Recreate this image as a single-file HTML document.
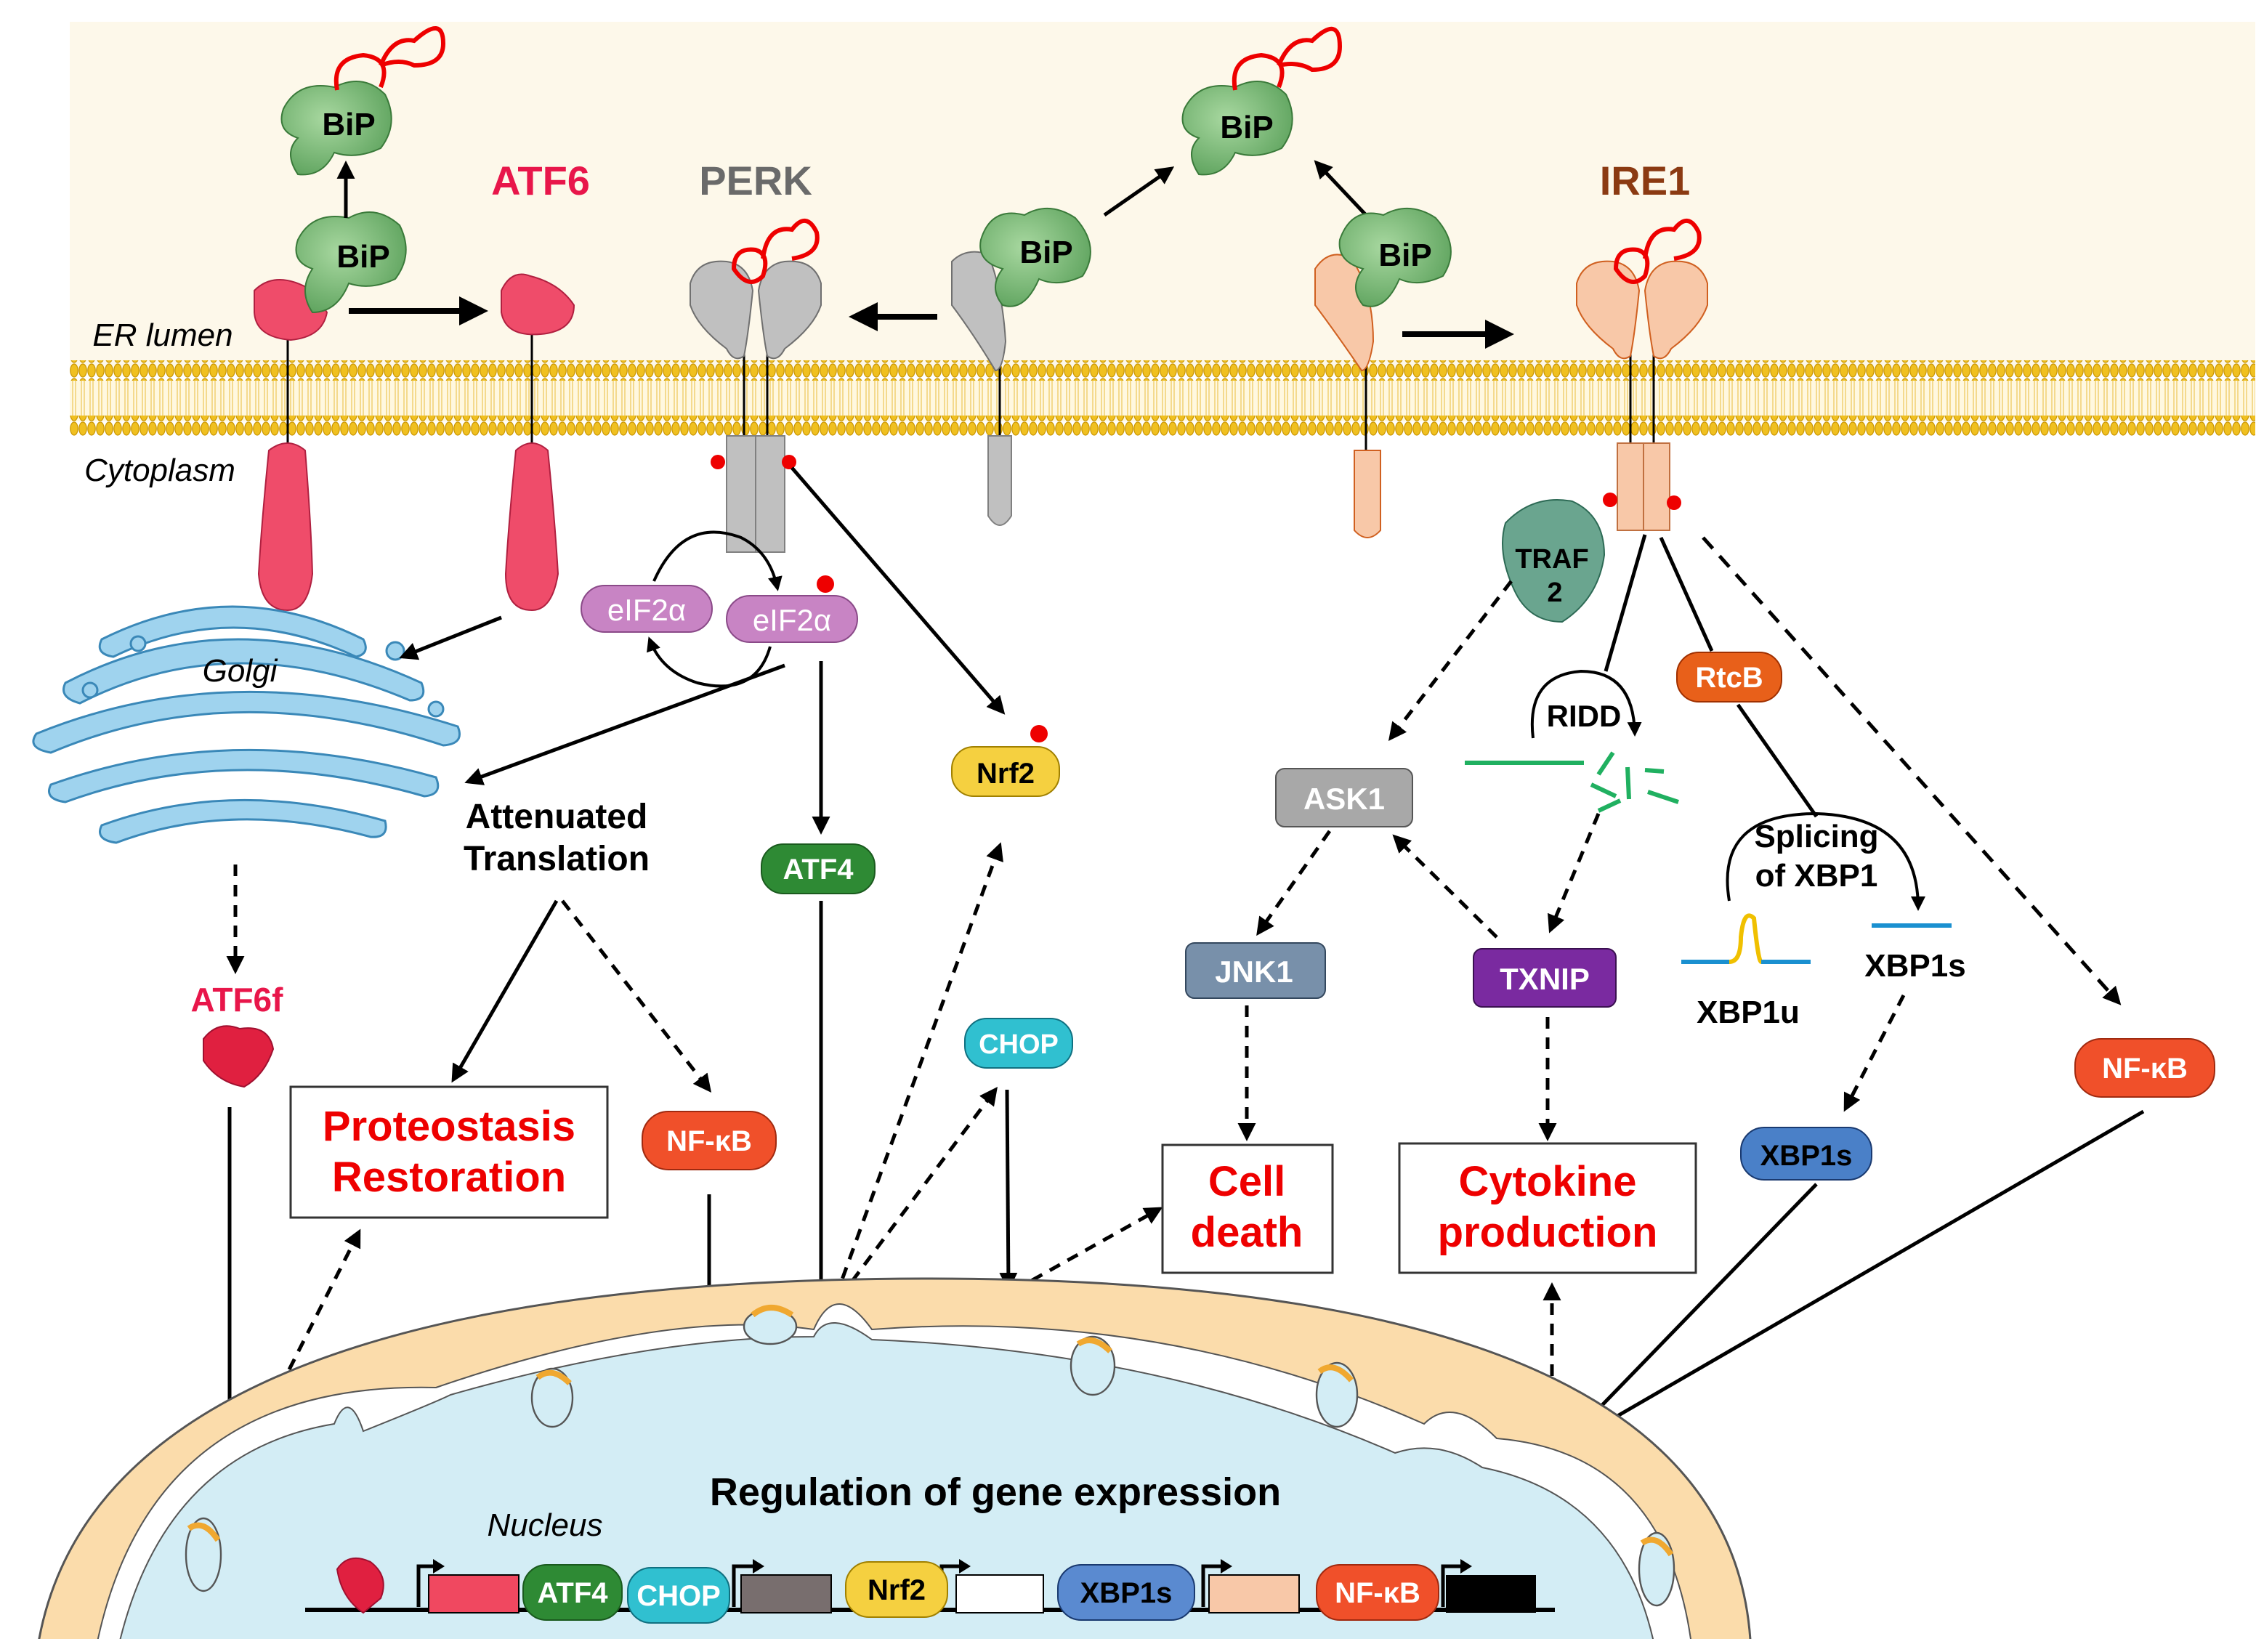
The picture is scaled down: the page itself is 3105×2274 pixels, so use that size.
<!DOCTYPE html>
<html><head><meta charset="utf-8"><style>
html,body{margin:0;padding:0;background:#fff;}
svg{display:block;}
text{font-family:"Liberation Sans",sans-serif;}
</style></head><body>
<svg width="3105" height="2274" viewBox="0 0 1552.5 1137" xmlns="http://www.w3.org/2000/svg">
<defs>
<marker id="a" viewBox="0 0 10 10" refX="8" refY="5" markerWidth="5" markerHeight="5" orient="auto-start-reverse"><path d="M0,0 L10,5 L0,10 z" fill="#000"/></marker>
<pattern id="bead" width="6" height="10" patternUnits="userSpaceOnUse"><ellipse cx="3" cy="5" rx="2.6" ry="4.5" fill="#f0c020" stroke="#c89400" stroke-width="0.6"/></pattern>
<pattern id="tail" width="6" height="10" patternUnits="userSpaceOnUse"><rect width="6" height="10" fill="#fff8e0"/><line x1="2" y1="0" x2="2" y2="10" stroke="#f2d27a" stroke-width="0.8"/><line x1="4" y1="0" x2="4" y2="10" stroke="#f2d27a" stroke-width="0.8"/></pattern>
<radialGradient id="gb" cx="0.4" cy="0.4" r="0.7"><stop offset="0" stop-color="#a8d8a0"/><stop offset="1" stop-color="#5aa05a"/></radialGradient>
</defs>
<rect width="1552.5" height="1137" fill="#fff"/>
<rect x="48" y="15" width="1504" height="240" fill="#fdf8ea"/>
<rect x="48" y="262" width="1504" height="28" fill="url(#tail)"/>
<rect x="48" y="248" width="1504" height="14" fill="url(#bead)"/>
<rect x="48" y="286" width="1504" height="14" fill="url(#bead)"/>

<text x="372" y="134" font-size="28" font-weight="bold" fill="#e8164a" text-anchor="middle">ATF6</text>
<text x="520" y="134" font-size="28" font-weight="bold" fill="#6a6a6a" text-anchor="middle">PERK</text>
<text x="1132" y="134" font-size="28" font-weight="bold" fill="#8b3a12" text-anchor="middle">IRE1</text>
<text x="112" y="238" font-size="22" font-style="italic" text-anchor="middle">ER lumen</text>
<text x="110" y="331" font-size="22" font-style="italic" text-anchor="middle">Cytoplasm</text>

<line x1="198" y1="225" x2="198" y2="310" stroke="#000" stroke-width="1.5"/>
<path d="M175,200 Q190,185 215,200 L225,215 Q222,232 200,234 Q176,232 175,215 z" fill="#ef4c6a" stroke="#b02040"/>
<path d="M185,310 Q198,300 210,310 Q214,360 215,395 Q212,420 198,420 Q180,420 178,395 Q180,360 185,310z" fill="#ef4c6a" stroke="#b02040"/>
<line x1="366" y1="225" x2="366" y2="310" stroke="#000" stroke-width="1.5"/>
<path d="M345,200 Q352,185 365,190 Q385,195 395,210 Q395,228 372,230 Q348,232 345,215z" fill="#ef4c6a" stroke="#b02040"/>
<path d="M355,310 Q366,300 377,310 Q382,360 384,395 Q380,420 366,420 Q348,420 348,395 Q350,360 355,310z" fill="#ef4c6a" stroke="#b02040"/>

<path d="M205,165 Q215,145 240,150 Q258,140 275,155 Q285,175 272,192 Q255,200 240,195 Q232,215 215,215 Q205,200 215,185 Q200,180 205,165z" fill="url(#gb)" stroke="#3a7a3a"/>
<text x="250" y="184" font-size="22" font-weight="bold" text-anchor="middle">BiP</text>
<path d="M195,75 Q205,55 230,60 Q250,50 265,65 Q275,85 262,102 Q245,110 230,105 Q222,122 205,120 Q195,105 205,95 Q190,90 195,75z" fill="url(#gb)" stroke="#3a7a3a"/>
<text x="240" y="93" font-size="22" font-weight="bold" text-anchor="middle">BiP</text>
<path d="M232,62 Q228,40 250,38 Q270,40 262,60 M262,45 Q270,25 285,28 Q305,10 305,30 Q305,45 285,45 Q275,40 262,45" fill="none" stroke="#e00" stroke-width="3"/>
<path d="M815,75 Q825,55 850,60 Q870,50 885,65 Q895,85 882,102 Q865,110 850,105 Q842,122 825,120 Q815,105 825,95 Q810,90 815,75z" fill="url(#gb)" stroke="#3a7a3a"/>
<text x="858" y="95" font-size="22" font-weight="bold" text-anchor="middle">BiP</text>
<path d="M850,62 Q846,40 868,38 Q888,40 880,60 M880,45 Q888,25 903,28 Q922,10 922,32 Q922,48 903,48 Q893,42 880,45" fill="none" stroke="#e00" stroke-width="3"/>
<line x1="238" y1="150" x2="238" y2="113" stroke="#000" stroke-width="2.5" marker-end="url(#a)"/>
<line x1="240" y1="214" x2="332" y2="214" stroke="#000" stroke-width="4" marker-end="url(#a)"/>

<line x1="512" y1="240" x2="512" y2="320" stroke="#000" stroke-width="1.5"/>
<line x1="528" y1="240" x2="528" y2="320" stroke="#000" stroke-width="1.5"/>
<path d="M475,195 Q480,178 500,180 Q515,182 518,200 Q515,230 512,245 Q505,250 500,240 Q480,225 475,210z" fill="#c0c0c0" stroke="#707070"/>
<path d="M565,195 Q560,178 540,180 Q525,182 522,200 Q525,230 528,245 Q535,250 540,240 Q560,225 565,210z" fill="#c0c0c0" stroke="#707070"/>
<path d="M500,300 h20 v80 h-20z M520,300 h20 v80 h-20z" fill="#c0c0c0" stroke="#808080"/>
<circle cx="494" cy="318" r="5" fill="#e00"/><circle cx="543" cy="318" r="5" fill="#e00"/>
<path d="M505,185 Q505,170 520,172 Q530,175 525,190 Q515,200 505,185z M525,178 Q528,155 545,158 Q555,145 562,160 Q565,175 545,178" fill="none" stroke="#e00" stroke-width="3"/>
<line x1="645" y1="218" x2="588" y2="218" stroke="#000" stroke-width="4" marker-end="url(#a)"/>
<line x1="688" y1="250" x2="688" y2="300" stroke="#000" stroke-width="1.5"/>
<path d="M655,180 Q665,170 680,175 Q690,200 692,235 Q690,255 685,255 Q670,230 655,210z" fill="#c0c0c0" stroke="#707070"/>
<path d="M680,300 h16 v55 Q688,368 680,355z" fill="#c0c0c0" stroke="#808080"/>
<path d="M675,165 Q682,142 705,148 Q722,138 740,150 Q758,170 745,190 Q728,198 715,192 Q705,215 690,210 Q680,198 690,185 Q672,180 675,165z" fill="url(#gb)" stroke="#3a7a3a"/>
<text x="720" y="181" font-size="22" font-weight="bold" text-anchor="middle">BiP</text>
<line x1="760" y1="148" x2="806" y2="116" stroke="#000" stroke-width="2.5" marker-end="url(#a)"/>
<line x1="940" y1="148" x2="906" y2="112" stroke="#000" stroke-width="2.5" marker-end="url(#a)"/>
<line x1="940" y1="250" x2="940" y2="310" stroke="#000" stroke-width="1.5"/>
<path d="M905,185 Q915,170 930,178 Q945,200 945,235 Q942,255 937,255 Q920,230 905,210z" fill="#f8c8a8" stroke="#d06020"/>
<path d="M932,310 h18 v55 Q941,375 932,365z" fill="#f8c8a8" stroke="#d06020"/>
<path d="M922,165 Q930,142 952,148 Q970,138 988,150 Q1006,170 993,190 Q976,198 963,192 Q953,215 938,210 Q928,198 938,185 Q920,180 922,165z" fill="url(#gb)" stroke="#3a7a3a"/>
<text x="967" y="183" font-size="22" font-weight="bold" text-anchor="middle">BiP</text>
<line x1="965" y1="230" x2="1038" y2="230" stroke="#000" stroke-width="4" marker-end="url(#a)"/>

<line x1="1122" y1="240" x2="1122" y2="320" stroke="#000" stroke-width="1.5"/>
<line x1="1138" y1="240" x2="1138" y2="320" stroke="#000" stroke-width="1.5"/>
<path d="M1085,195 Q1090,178 1110,180 Q1125,182 1128,200 Q1125,230 1122,245 Q1115,250 1110,240 Q1090,225 1085,210z" fill="#f8c8a8" stroke="#d06020"/>
<path d="M1175,195 Q1170,178 1150,180 Q1135,182 1132,200 Q1135,230 1138,245 Q1145,250 1150,240 Q1170,225 1175,210z" fill="#f8c8a8" stroke="#d06020"/>
<path d="M1113,305 h18 v60 h-18z M1131,305 h18 v60 h-18z" fill="#f8c8a8" stroke="#c07040"/>
<circle cx="1108" cy="344" r="5" fill="#e00"/><circle cx="1152" cy="346" r="5" fill="#e00"/>
<path d="M1112,185 Q1112,170 1127,172 Q1137,175 1132,190 Q1122,200 1112,185z M1132,178 Q1135,155 1152,158 Q1162,145 1169,160 Q1172,175 1152,178" fill="none" stroke="#e00" stroke-width="3"/>
<path d="M1036,360 Q1055,340 1082,345 Q1104,355 1104,382 Q1100,412 1075,428 Q1052,428 1042,406 Q1030,380 1036,360z" fill="#6aa58f" stroke="#2d6a55"/>
<text x="1068" y="391" font-size="19" font-weight="bold" text-anchor="middle">TRAF</text>
<text x="1070" y="414" font-size="19" font-weight="bold" text-anchor="middle">2</text>

<g fill="#9fd3ee" stroke="#3a88b8" stroke-width="1.5">
<path d="M70,440 Q160,395 250,440 Q255,450 245,452 Q160,412 78,452 Q65,450 70,440z"/>
<path d="M45,470 Q160,410 290,470 Q295,482 282,482 Q160,430 55,484 Q40,480 45,470z"/>
<path d="M25,505 Q160,450 315,500 Q320,512 305,513 Q160,465 35,518 Q18,515 25,505z"/>
<path d="M35,540 Q160,495 300,535 Q305,547 292,548 Q160,510 45,552 Q30,550 35,540z"/>
<path d="M70,568 Q160,535 265,565 Q268,577 255,576 Q160,550 80,580 Q65,578 70,568z"/>
<circle cx="95" cy="443" r="5"/><circle cx="272" cy="448" r="6"/><circle cx="300" cy="488" r="5"/><circle cx="62" cy="475" r="5"/>
</g>
<text x="165" y="469" font-size="22" font-style="italic" text-anchor="middle">Golgi</text>
<line x1="345" y1="425" x2="277" y2="452" stroke="#000" stroke-width="2.5" marker-end="url(#a)"/>
<line x1="162" y1="595" x2="162" y2="668" stroke="#000" stroke-width="2.5" stroke-dasharray="8,6" marker-end="url(#a)"/>
<text x="163" y="696" font-size="23" font-weight="bold" fill="#e8164a" text-anchor="middle">ATF6f</text>
<path d="M140,715 Q150,702 165,708 Q185,705 188,722 Q182,740 168,748 Q150,745 140,730z" fill="#e02040" stroke="#a01030"/>
<line x1="158" y1="762" x2="158" y2="988" stroke="#000" stroke-width="2.5" marker-end="url(#a)"/>
<line x1="180" y1="980" x2="247" y2="848" stroke="#000" stroke-width="2.5" stroke-dasharray="8,6" marker-end="url(#a)"/>

<rect x="400" y="403" width="90" height="32" rx="16" fill="#c884c4" stroke="#8a4a88"/>
<text x="445" y="427" font-size="21" fill="#fff" text-anchor="middle">eIF2α</text>
<rect x="500" y="410" width="90" height="32" rx="16" fill="#c884c4" stroke="#8a4a88"/>
<text x="545" y="434" font-size="21" fill="#fff" text-anchor="middle">eIF2α</text>
<circle cx="568" cy="402" r="6" fill="#e00"/>
<path d="M450,400 Q470,355 510,370 Q530,380 535,405" fill="none" stroke="#000" stroke-width="2" marker-end="url(#a)"/>
<path d="M530,445 Q520,480 480,470 Q455,462 447,440" fill="none" stroke="#000" stroke-width="2" marker-end="url(#a)"/>
<line x1="545" y1="322" x2="690" y2="490" stroke="#000" stroke-width="2.5" marker-end="url(#a)"/>
<line x1="540" y1="458" x2="322" y2="538" stroke="#000" stroke-width="2.5" marker-end="url(#a)"/>
<line x1="565" y1="455" x2="565" y2="572" stroke="#000" stroke-width="2.5" marker-end="url(#a)"/>
<text x="383" y="570" font-size="24" font-weight="bold" text-anchor="middle">Attenuated</text>
<text x="383" y="599" font-size="24" font-weight="bold" text-anchor="middle">Translation</text>
<rect x="655" y="514" width="74" height="34" rx="15" fill="#f5d040" stroke="#a08000"/>
<text x="692" y="539" font-size="20" font-weight="bold" text-anchor="middle">Nrf2</text>
<circle cx="715" cy="505" r="6" fill="#e00"/>
<rect x="524" y="581" width="78" height="34" rx="15" fill="#2e8a34" stroke="#1a5a1e"/>
<text x="563" y="605" font-size="20" font-weight="bold" fill="#fff" text-anchor="middle">ATF4</text>
<line x1="383" y1="620" x2="312" y2="743" stroke="#000" stroke-width="2.5" marker-end="url(#a)"/>
<line x1="387" y1="620" x2="488" y2="750" stroke="#000" stroke-width="2.5" stroke-dasharray="8,6" marker-end="url(#a)"/>
<rect x="200" y="748" width="218" height="90" fill="#fff" stroke="#333" stroke-width="1.5"/>
<text x="309" y="785" font-size="29" font-weight="bold" fill="#e00" text-anchor="middle">Proteostasis</text>
<text x="309" y="820" font-size="29" font-weight="bold" fill="#e00" text-anchor="middle">Restoration</text>
<rect x="442" y="765" width="92" height="40" rx="18" fill="#f0502a" stroke="#a02a10"/>
<text x="488" y="792" font-size="20" font-weight="bold" fill="#fff" text-anchor="middle">NF-κB</text>
<line x1="488" y1="822" x2="488" y2="902" stroke="#000" stroke-width="2.5" marker-end="url(#a)"/>
<line x1="565" y1="620" x2="565" y2="893" stroke="#000" stroke-width="2.5" marker-end="url(#a)"/>
<line x1="575" y1="893" x2="688" y2="582" stroke="#000" stroke-width="2.5" stroke-dasharray="8,6" marker-end="url(#a)"/>
<line x1="578" y1="893" x2="685" y2="750" stroke="#000" stroke-width="2.5" stroke-dasharray="8,6" marker-end="url(#a)"/>
<rect x="664" y="701" width="74" height="34" rx="15" fill="#30c0d0" stroke="#107080"/>
<text x="701" y="725" font-size="19" font-weight="bold" fill="#fff" text-anchor="middle">CHOP</text>
<line x1="693" y1="750" x2="694" y2="886" stroke="#000" stroke-width="2.5" marker-end="url(#a)"/>
<line x1="698" y1="888" x2="798" y2="832" stroke="#000" stroke-width="2.5" stroke-dasharray="8,6" marker-end="url(#a)"/>
<rect x="800" y="788" width="117" height="88" fill="#fff" stroke="#333" stroke-width="1.5"/>
<text x="858" y="823" font-size="29" font-weight="bold" fill="#e00" text-anchor="middle">Cell</text>
<text x="858" y="858" font-size="29" font-weight="bold" fill="#e00" text-anchor="middle">death</text>

<line x1="1040" y1="400" x2="957" y2="508" stroke="#000" stroke-width="2.5" stroke-dasharray="8,6" marker-end="url(#a)"/>
<rect x="878" y="529" width="94" height="40" rx="6" fill="#a8a8a8" stroke="#555"/>
<text x="925" y="557" font-size="21" font-weight="bold" fill="#fff" text-anchor="middle">ASK1</text>
<line x1="915" y1="572" x2="866" y2="642" stroke="#000" stroke-width="2.5" stroke-dasharray="8,6" marker-end="url(#a)"/>
<rect x="816" y="649" width="96" height="38" rx="6" fill="#7890aa" stroke="#34485e"/>
<text x="863" y="676" font-size="21" font-weight="bold" fill="#fff" text-anchor="middle">JNK1</text>
<line x1="858" y1="692" x2="858" y2="783" stroke="#000" stroke-width="2.5" stroke-dasharray="8,6" marker-end="url(#a)"/>
<line x1="1030" y1="645" x2="960" y2="576" stroke="#000" stroke-width="2.5" stroke-dasharray="8,6" marker-end="url(#a)"/>
<rect x="1014" y="653" width="98" height="40" rx="6" fill="#7a2aa0" stroke="#3a1050"/>
<text x="1063" y="681" font-size="21" font-weight="bold" fill="#fff" text-anchor="middle">TXNIP</text>
<line x1="1065" y1="700" x2="1065" y2="783" stroke="#000" stroke-width="2.5" stroke-dasharray="8,6" marker-end="url(#a)"/>
<rect x="963" y="787" width="204" height="89" fill="#fff" stroke="#333" stroke-width="1.5"/>
<text x="1065" y="823" font-size="29" font-weight="bold" fill="#e00" text-anchor="middle">Cytokine</text>
<text x="1065" y="858" font-size="29" font-weight="bold" fill="#e00" text-anchor="middle">production</text>
<line x1="1132" y1="368" x2="1105" y2="462" stroke="#000" stroke-width="2.5"/>
<path d="M1055,508 Q1050,465 1088,462 Q1124,462 1125,505" fill="none" stroke="#000" stroke-width="2" marker-end="url(#a)"/>
<text x="1090" y="500" font-size="21" font-weight="bold" text-anchor="middle">RIDD</text>
<line x1="1008" y1="525" x2="1090" y2="525" stroke="#20b060" stroke-width="3"/>
<g stroke="#20b060" stroke-width="3"><line x1="1100" y1="533" x2="1110" y2="518"/><line x1="1120" y1="528" x2="1121" y2="550"/><line x1="1132" y1="530" x2="1145" y2="531"/><line x1="1095" y1="540" x2="1112" y2="548"/><line x1="1100" y1="558" x2="1115" y2="551"/><line x1="1134" y1="545" x2="1155" y2="552"/></g>
<line x1="1100" y1="560" x2="1067" y2="640" stroke="#000" stroke-width="2.5" stroke-dasharray="8,6" marker-end="url(#a)"/>
<line x1="1143" y1="370" x2="1178" y2="448" stroke="#000" stroke-width="2.5"/>
<rect x="1154" y="449" width="72" height="34" rx="15" fill="#e8601a" stroke="#a03000"/>
<text x="1190" y="473" font-size="20" font-weight="bold" fill="#fff" text-anchor="middle">RtcB</text>
<line x1="1196" y1="485" x2="1250" y2="562" stroke="#000" stroke-width="2.5"/>
<path d="M1190,620 Q1180,560 1250,560 Q1320,562 1320,625" fill="none" stroke="#000" stroke-width="2" marker-end="url(#a)"/>
<text x="1250" y="583" font-size="22" font-weight="bold" text-anchor="middle">Splicing</text>
<text x="1250" y="610" font-size="22" font-weight="bold" text-anchor="middle">of XBP1</text>
<line x1="1157" y1="662" x2="1190" y2="662" stroke="#1a90d0" stroke-width="3"/>
<line x1="1212" y1="662" x2="1246" y2="662" stroke="#1a90d0" stroke-width="3"/>
<path d="M1190,662 Q1198,662 1198,645 Q1200,625 1207,632 Q1210,662 1212,662" fill="none" stroke="#f0c000" stroke-width="3"/>
<text x="1203" y="704" font-size="22" font-weight="bold" text-anchor="middle">XBP1u</text>
<line x1="1288" y1="637" x2="1343" y2="637" stroke="#1a90d0" stroke-width="3"/>
<text x="1318" y="672" font-size="22" font-weight="bold" text-anchor="middle">XBP1s</text>
<line x1="1310" y1="685" x2="1270" y2="763" stroke="#000" stroke-width="2.5" stroke-dasharray="8,6" marker-end="url(#a)"/>
<rect x="1198" y="776" width="90" height="36" rx="16" fill="#4a80c8" stroke="#1a3a70"/>
<text x="1243" y="802" font-size="20" font-weight="bold" text-anchor="middle">XBP1s</text>
<line x1="1250" y1="815" x2="1090" y2="980" stroke="#000" stroke-width="2.5" marker-end="url(#a)"/>
<line x1="1172" y1="370" x2="1458" y2="690" stroke="#000" stroke-width="2.5" stroke-dasharray="10,7" marker-end="url(#a)"/>
<rect x="1428" y="715" width="96" height="40" rx="18" fill="#f0502a" stroke="#a02a10"/>
<text x="1476" y="742" font-size="20" font-weight="bold" fill="#fff" text-anchor="middle">NF-κB</text>
<line x1="1475" y1="765" x2="1095" y2="985" stroke="#000" stroke-width="2.5" marker-end="url(#a)"/>
<line x1="1068" y1="975" x2="1068" y2="885" stroke="#000" stroke-width="2.5" stroke-dasharray="8,6" marker-end="url(#a)"/>

<clipPath id="cp"><rect x="0" y="0" width="1552" height="1128"/></clipPath>
<g clip-path="url(#cp)">
<path d="M25,1140 Q60,880 640,880 Q1200,880 1205,1140z" fill="#fbdcab" stroke="#555" stroke-width="1.5"/>
<path d="M65,1140 Q100,950 300,955 Q460,900 560,915 Q575,880 600,915 Q800,900 980,980 Q1000,960 1030,990 Q1150,1000 1165,1140z" fill="#fff" stroke="#555"/>
<path d="M80,1140 Q110,1000 230,980 Q240,955 250,985 Q300,965 310,960 Q450,920 560,920 Q570,900 600,922 Q800,930 960,1000 Q990,990 1020,1010 Q1120,1030 1140,1140z" fill="#d3edf5" stroke="#555"/>
<g fill="#d3edf5" stroke="#555" stroke-width="1.2">
<ellipse cx="530" cy="913" rx="18" ry="12"/><ellipse cx="380" cy="962" rx="14" ry="20"/><ellipse cx="752" cy="940" rx="15" ry="20"/><ellipse cx="920" cy="960" rx="14" ry="22"/><ellipse cx="140" cy="1070" rx="12" ry="25"/><ellipse cx="1140" cy="1080" rx="12" ry="25"/>
</g>
<g fill="none" stroke="#f0a830" stroke-width="4">
<path d="M518,905 Q530,895 545,905"/><path d="M370,948 Q380,940 392,952"/><path d="M742,925 Q752,918 764,930"/><path d="M908,944 Q918,936 930,950"/><path d="M130,1052 Q140,1045 150,1060"/><path d="M1130,1062 Q1140,1055 1150,1070"/>
</g>
</g>
<text x="685" y="1036" font-size="27" font-weight="bold" text-anchor="middle">Regulation of gene expression</text>
<text x="375" y="1057" font-size="22" font-style="italic" text-anchor="middle">Nucleus</text>
<line x1="210" y1="1108" x2="1070" y2="1108" stroke="#000" stroke-width="3"/>
<path d="M232,1080 Q240,1068 255,1075 Q268,1085 262,1100 L250,1110 Q235,1100 232,1080z" fill="#e02040" stroke="#a01030"/>
<g fill="none" stroke="#000" stroke-width="2.5">
<path d="M288,1106 V1078 H300"/><path d="M505,1106 V1078 H520"/><path d="M648,1106 V1078 H662"/><path d="M828,1106 V1078 H842"/><path d="M993,1106 V1078 H1007"/>
</g>
<g fill="#000"><path d="M298,1073 l8,5 l-8,5z"/><path d="M518,1073 l8,5 l-8,5z"/><path d="M660,1073 l8,5 l-8,5z"/><path d="M840,1073 l8,5 l-8,5z"/><path d="M1005,1073 l8,5 l-8,5z"/></g>
<rect x="295" y="1084" width="62" height="26" fill="#f04860" stroke="#000"/>
<rect x="510" y="1084" width="62" height="26" fill="#786e6e" stroke="#000"/>
<rect x="658" y="1084" width="60" height="26" fill="#fff" stroke="#000"/>
<rect x="832" y="1084" width="62" height="26" fill="#f8c8a8" stroke="#000"/>
<rect x="995" y="1084" width="62" height="26" fill="#000"/>
<rect x="360" y="1077" width="68" height="38" rx="16" fill="#2e8a34" stroke="#1a5a1e"/>
<text x="394" y="1103" font-size="20" font-weight="bold" fill="#fff" text-anchor="middle">ATF4</text>
<rect x="432" y="1079" width="70" height="38" rx="16" fill="#30c0d0" stroke="#107080"/>
<text x="467" y="1105" font-size="20" font-weight="bold" fill="#fff" text-anchor="middle">CHOP</text>
<rect x="582" y="1075" width="70" height="38" rx="16" fill="#f5d040" stroke="#a08000"/>
<text x="617" y="1101" font-size="20" font-weight="bold" text-anchor="middle">Nrf2</text>
<rect x="728" y="1077" width="94" height="38" rx="16" fill="#5a8ad0" stroke="#1a3a70"/>
<text x="775" y="1103" font-size="20" font-weight="bold" text-anchor="middle">XBP1s</text>
<rect x="906" y="1077" width="84" height="38" rx="16" fill="#f0502a" stroke="#a02a10"/>
<text x="948" y="1103" font-size="20" font-weight="bold" fill="#fff" text-anchor="middle">NF-κB</text>
</svg>
</body></html>
